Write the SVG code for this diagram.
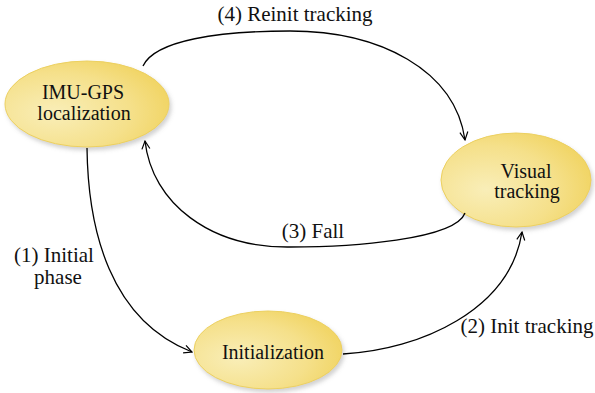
<svg xmlns="http://www.w3.org/2000/svg" width="595" height="393" viewBox="0 0 595 393">
<defs>
<radialGradient id="g" cx="0.3" cy="0.6" r="0.85">
<stop offset="0" stop-color="#f9eeb8"/>
<stop offset="0.55" stop-color="#f5e08a"/>
<stop offset="1" stop-color="#efcf52"/>
</radialGradient>
<filter id="sh" x="-10%" y="-10%" width="125%" height="130%">
<feDropShadow dx="2" dy="3" stdDeviation="2" flood-color="#9a9a9a" flood-opacity="0.45"/>
</filter>
<marker id="ah" markerWidth="10" markerHeight="10" refX="9" refY="5" orient="auto" markerUnits="userSpaceOnUse">
<path d="M1,1 L9,5 L1,9" fill="none" stroke="#000" stroke-width="1.2"/>
</marker>
</defs>
<style>
.node{fill:url(#g);stroke:#ecd060;stroke-width:1;filter:url(#sh)}
.t{font-family:'Liberation Serif','Times New Roman',serif;font-size:20px;fill:#111;text-anchor:middle}
.l{font-family:'Liberation Serif','Times New Roman',serif;font-size:21px;fill:#111;text-anchor:middle}
.c{fill:none;stroke:#000;stroke-width:1.3;marker-end:url(#ah)}
</style>
<rect width="595" height="393" fill="#fff"/>
<g id="imu">
<ellipse class="node" cx="87" cy="104" rx="82" ry="43"/>
<text class="t" x="83" y="99">IMU-GPS</text>
<text class="t" x="84" y="120">localization</text>
</g>
<g id="visual">
<ellipse class="node" cx="516" cy="180" rx="75" ry="47"/>
<text class="t" x="526" y="178">Visual</text>
<text class="t" x="527" y="198">tracking</text>
</g>
<g id="init">
<ellipse class="node" cx="268" cy="350" rx="74" ry="39"/>
<text class="t" x="273" y="359">Initialization</text>
</g>
<g id="connectors">
<path class="c" d="M143,66 C155,40 220,31 290,31 C380,31 455,70 465,140"/>
<path class="c" d="M465,213 C455,240 350,247 290,247 C210,248 152,203 145,141"/>
<path class="c" d="M87,148 C88,230 110,320 192,352"/>
<path class="c" d="M343,354 C420,350 510,310 522,232"/>
<text class="l" x="295" y="21">(4) Reinit tracking</text>
<text class="l" x="313" y="238">(3) Fall</text>
<text class="l" x="54" y="262">(1) Initial</text>
<text class="l" x="58" y="284">phase</text>
<text class="l" x="527" y="333">(2) Init tracking</text>
</g>
</svg>
